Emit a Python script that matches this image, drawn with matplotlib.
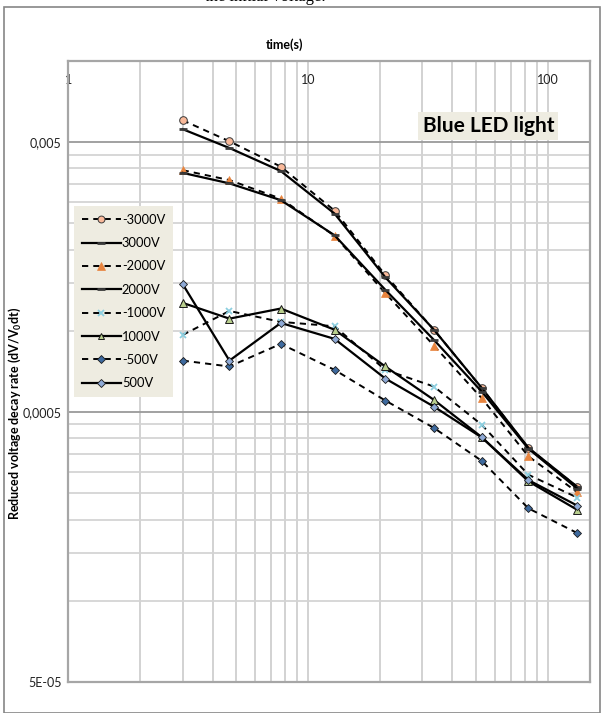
import numpy as np
import matplotlib
matplotlib.use("Agg")
import matplotlib.pyplot as plt
from matplotlib.patches import Rectangle
from matplotlib.ticker import FixedLocator, NullFormatter

# ---- data ----
time_s = [3, 4.7, 7.7, 12.9, 21, 33.5, 53, 83, 133]
neg3000 = [6.03e-3, 5.04e-3, 4.06e-3, 2.79e-3, 1.61e-3, 1.01e-3, 6.14e-4, 3.68e-4, 2.64e-4]
pos3000 = [5.59e-3, 4.76e-3, 3.91e-3, 2.72e-3, 1.58e-3, 1.01e-3, 6.15e-4, 3.69e-4, 2.64e-4]
neg2000 = [3.94e-3, 3.62e-3, 3.09e-3, 2.25e-3, 1.38e-3, 8.82e-4, 5.63e-4, 3.43e-4, 2.52e-4]
pos2000 = [3.85e-3, 3.52e-3, 3.05e-3, 2.26e-3, 1.42e-3, 9.26e-4, 5.96e-4, 3.66e-4, 2.60e-4]
neg1000 = [9.66e-4, 1.185e-3, 1.08e-3, 1.04e-3, 7.17e-4, 6.22e-4, 4.49e-4, 2.93e-4, 2.41e-4]
pos1000 = [1.27e-3, 1.11e-3, 1.21e-3, 1.01e-3, 7.38e-4, 5.55e-4, 4.04e-4, 2.77e-4, 2.17e-4]
neg500 = [7.76e-4, 7.38e-4, 8.95e-4, 7.17e-4, 5.52e-4, 4.37e-4, 3.30e-4, 2.20e-4, 1.78e-4]
pos500 = [1.49e-3, 7.76e-4, 1.07e-3, 9.34e-4, 6.66e-4, 5.24e-4, 4.03e-4, 2.80e-4, 2.25e-4]
labels = ["-3000V", "3000V", "-2000V", "2000V", "-1000V", "1000V", "-500V", "500V"]
x_ticks = [1, 10, 100]
x_ticklabels = ["1", "10", "100"]
y_ticks = [5e-5, 5e-4, 5e-3]
y_ticklabels = ["5E-05", "0,0005", "0,005"]

plt.rcParams['font.family'] = ['Lato', 'DejaVu Sans']

W, H = 604, 713
fig = plt.figure(figsize=(W / 100, H / 100), dpi=100)

# outer chart frame
fig.patches.append(Rectangle((4 / W, 0), 596 / W, 1 - 7 / H, transform=fig.transFigure,
                             fill=False, edgecolor='#868686', linewidth=1.2))
# cut-off document text above the chart
fig.text(0.44, 1 + 3 / H, "the initial voltage.", ha='center', va='center',
         fontsize=12, family=['Liberation Serif'])

left, right, top, bottom = 68.3, 590, 61, 682
ax = fig.add_axes([left / W, 1 - bottom / H, (right - left) / W, (bottom - top) / H])
ax.set_xscale('log')
ax.set_yscale('log')
ax.set_xlim(1, 150)
ax.set_ylim(5e-5, 1e-2)

# grid
ax.xaxis.set_major_locator(FixedLocator(x_ticks))
xminor = [m * d for d in (1, 10, 100) for m in range(2, 10) if m * d < 150]
ax.xaxis.set_minor_locator(FixedLocator(xminor))
ax.xaxis.set_minor_formatter(NullFormatter())
ax.yaxis.set_major_locator(FixedLocator(y_ticks))
yminor = [m * d for d in (5e-5, 5e-4, 5e-3) for m in np.arange(2, 10)]
ax.yaxis.set_minor_locator(FixedLocator([v for v in yminor if v <= 1e-2]))
ax.yaxis.set_minor_formatter(NullFormatter())
ax.set_xticklabels(x_ticklabels)
ax.set_yticklabels(y_ticklabels)

ax.grid(True, axis='x', which='both', color='#cfcfcf', linewidth=1.3)
ax.grid(True, axis='y', which='minor', color='#d4d4d4', linewidth=1.3)
ax.grid(True, axis='y', which='major', color='#9a9a9a', linewidth=1.3)
ax.set_axisbelow(True)

ax.xaxis.tick_top()
ax.tick_params(axis='x', which='both', length=0, pad=-18, labelsize=9, colors='#222222')
ax.tick_params(axis='y', which='both', length=0, pad=5, labelsize=9, colors='#222222')
for s in ax.spines.values():
    s.set_color('#a6a6a6')
    s.set_linewidth(1.6)

dash = (0, (3.2, 2.6))
mk_edge = '#1a1a1a'
ax.plot(time_s, neg3000, color='black', lw=1.4, ls=dash, marker='o', ms=5.5,
        mfc='#F9B99A', mec='#3a3a3a', mew=0.7, label=labels[0], zorder=3)
ax.plot(time_s, pos3000, color='black', lw=1.6, ls='-', marker='_', ms=6,
        mec='#3a3a3a', mew=2, label=labels[1], zorder=3)
ax.plot(time_s, neg2000, color='black', lw=1.4, ls=dash, marker='^', ms=6,
        mfc='#E8843E', mec='#E8843E', mew=0.5, label=labels[2], zorder=3)
ax.plot(time_s, pos2000, color='black', lw=1.6, ls='-', marker='_', ms=6,
        mec='#3a3a3a', mew=2, label=labels[3], zorder=3)
ax.plot(time_s, neg1000, color='black', lw=1.4, ls=dash, marker='x', ms=5,
        mec='#8CCFE0', mew=1.3, label=labels[4], zorder=3)
ax.plot(time_s, pos1000, color='black', lw=1.6, ls='-', marker='^', ms=5.5,
        mfc='#B9CF8E', mec=mk_edge, mew=0.7, label=labels[5], zorder=3)
ax.plot(time_s, neg500, color='black', lw=1.4, ls=dash, marker='D', ms=4,
        mfc='#3E6A9E', mec=mk_edge, mew=0.6, label=labels[6], zorder=3)
ax.plot(time_s, pos500, color='black', lw=1.6, ls='-', marker='D', ms=4,
        mfc='#8FAAD6', mec=mk_edge, mew=0.6, label=labels[7], zorder=3)

leg = ax.legend(loc='upper left', bbox_to_anchor=((74 - left) / (right - left), (bottom - 206) / (bottom - top)),
                frameon=True, fancybox=False, framealpha=1, facecolor='#EEECE1', edgecolor='none',
                fontsize=9.3, handlelength=3.0, handletextpad=0.1, labelspacing=0.88,
                borderpad=0.6, borderaxespad=0, markerscale=0.9)
leg.set_zorder(5)

# titles
fig.text(285 / W, 1 - 45 / H, "time(s)", ha='center', va='center', fontsize=9, fontweight='bold')
fig.text(15 / W, 1 - 413 / H, "Reduced voltage decay rate (dV/V$\\mathregular{_0}$dt)", ha='center',
         va='center', rotation=90, fontsize=9, fontweight='bold')

# annotation box
ax.text((554 - left) / (right - left), (bottom - 126) / (bottom - top), "Blue LED light",
        transform=ax.transAxes, ha='right', va='center', fontsize=15, fontweight='bold',
        bbox=dict(boxstyle='square,pad=0.2', facecolor='#EEECE1', edgecolor='none'), zorder=6)

fig.savefig("out.png", dpi=100)
